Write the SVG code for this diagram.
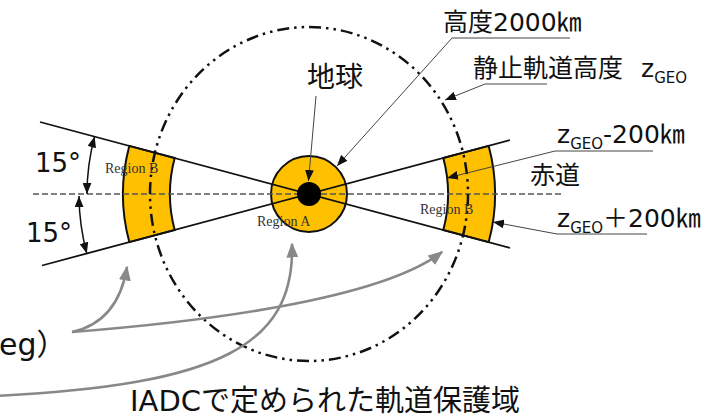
<svg xmlns="http://www.w3.org/2000/svg" width="722" height="420" viewBox="0 0 722 420">
<style>
.jp{font-family:"DejaVu Sans","Noto Sans CJK JP",sans-serif;fill:#111}
.rg{font-family:"Liberation Serif",serif;fill:#333;font-size:14px}
.wedge{stroke:#111;stroke-width:1.8;fill:none}
.band{fill:#FFC000;stroke:#111;stroke-width:2}
.lead{stroke:#444;stroke-width:1;fill:none}
.gray{stroke:#888;stroke-width:2.6;fill:none}
</style>
<defs>
<marker id="ah" viewBox="0 0 10 8" refX="10" refY="4" markerWidth="11" markerHeight="9" markerUnits="userSpaceOnUse" orient="auto"><path d="M0,0 L10,4 L0,8 Z" fill="#111"/></marker>
<marker id="ah2" viewBox="0 0 10 8" refX="10" refY="4" markerWidth="11" markerHeight="9" markerUnits="userSpaceOnUse" orient="auto-start-reverse"><path d="M0,0 L10,4 L0,8 Z" fill="#111"/></marker>
<marker id="gh" viewBox="0 0 10 8" refX="9" refY="4" markerWidth="15" markerHeight="12" markerUnits="userSpaceOnUse" orient="auto"><path d="M0,0 L10,4 L0,8 Z" fill="#888"/></marker>
</defs>

<g id="regionB-left"><path class="band" d="M129.3,145.9 A186,186 0 0,0 129.3,242.1 L174.7,230 A139,139 0 0,1 174.7,158 Z"/></g>
<g id="regionB-right"><path class="band" d="M488.7,145.9 A186,186 0 0,1 488.7,242.1 L443.3,230 A139,139 0 0,0 443.3,158 Z"/></g>
<g id="earth-zone"><circle cx="309" cy="194" r="38" fill="#FFC000" stroke="#111" stroke-width="2"/></g>

<g id="connectors">
<line class="wedge" x1="40" y1="122" x2="510" y2="248"/>
<line class="wedge" x1="42" y1="265.5" x2="510" y2="140"/>
<line x1="33" y1="194" x2="562" y2="194" stroke="#555" stroke-width="1.5" stroke-dasharray="6 3"/>
<ellipse cx="309" cy="194" rx="159" ry="167" fill="none" stroke="#111" stroke-width="2.5" stroke-dasharray="12 5 2.5 5 2.5 5"/>
<path d="M87,194 A222,222 0 0,1 94.6,136.5" fill="none" stroke="#111" stroke-width="1.5" marker-start="url(#ah2)" marker-end="url(#ah2)"/>
<path d="M79,196 A230,230 0 0,0 86.8,253.5" fill="none" stroke="#111" stroke-width="1.5" marker-start="url(#ah2)" marker-end="url(#ah2)"/>
<path class="lead" d="M316,96 L308.5,181" marker-end="url(#ah)"/>
<path class="lead" d="M570,38 L452,38 L337,166" marker-end="url(#ah)"/>
<path class="lead" d="M547,84 L485,84 L445,100" marker-end="url(#ah)"/>
<path class="lead" d="M653,151 L555,151 L447,178" marker-end="url(#ah)"/>
<path class="lead" d="M647,234 L557,234 L493,222" marker-end="url(#ah)"/>
<path class="gray" d="M72,332 Q118,322 127,267" marker-end="url(#gh)"/>
<path class="gray" d="M72,332 C200,322 380,300 442,252" marker-end="url(#gh)"/>
<path class="gray" d="M-5,396 C220,385 295,345 292,244" marker-end="url(#gh)"/>
</g>

<g id="earth"><circle cx="309" cy="194" r="12" fill="#000"/></g>

<g id="labels">
<text class="rg" x="257" y="226">Region A</text>
<text class="rg" x="105" y="173">Region B</text>
<text class="rg" x="420" y="214">Region B</text>
<text class="jp" x="35" y="172" font-size="26">15°</text>
<text class="jp" x="26" y="242" font-size="26">15°</text>
<text class="jp" x="307" y="87" font-size="28">地球</text>
<text class="jp" x="443" y="31" font-size="25">高度2000㎞</text>
<text class="jp" x="473" y="77" font-size="25">静止軌道高度</text>
<text class="jp" x="641" y="77" font-size="25">z<tspan font-size="15" dy="6">GEO</tspan></text>
<text class="jp" x="557" y="143" font-size="25">z<tspan font-size="15" dy="6">GEO</tspan><tspan dy="-6">-200㎞</tspan></text>
<text class="jp" x="530" y="184" font-size="25">赤道</text>
<text class="jp" x="557" y="227" font-size="25">z<tspan font-size="15" dy="6">GEO</tspan><tspan dy="-6">＋200㎞</tspan></text>
<text class="jp" x="-1" y="355" font-size="30">eg）</text>
<text class="jp" x="130" y="411" font-size="29">IADCで定められた軌道保護域</text>
</g>
</svg>
